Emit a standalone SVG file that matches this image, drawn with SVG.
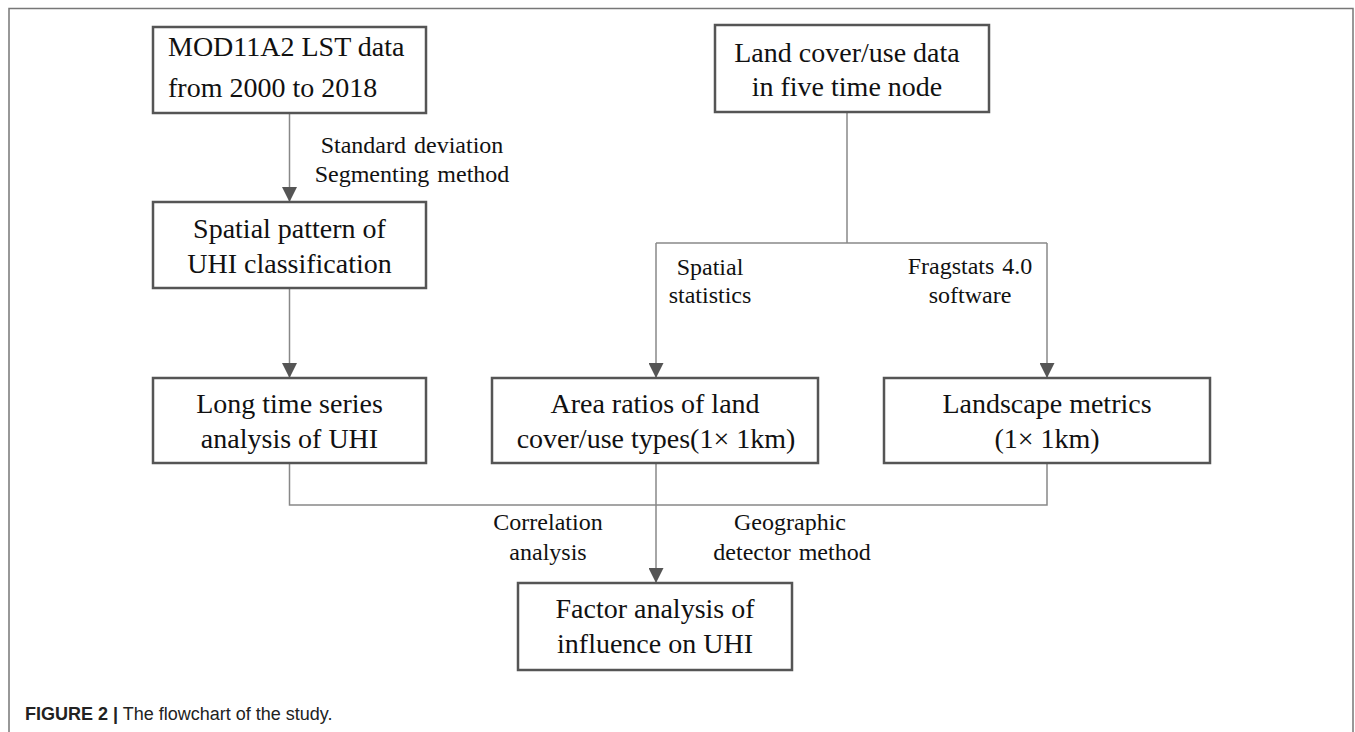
<svg xmlns="http://www.w3.org/2000/svg" width="1355" height="732" viewBox="0 0 1355 732">
<style>
.box{fill:#fff;stroke:#555;stroke-width:2.5}
.t{font-family:"Liberation Serif","Times New Roman","DejaVu Serif",serif;font-size:28px;fill:#111;text-anchor:middle}
.l{font-family:"Liberation Serif","Times New Roman","DejaVu Serif",serif;font-size:24px;fill:#111;text-anchor:middle;word-spacing:2px}
.c{fill:none;stroke:#888;stroke-width:1.5}
.frame{fill:none;stroke:#777;stroke-width:1.5}
.cap{font-family:"Liberation Sans",Arial,sans-serif;font-size:18px;fill:#222}
</style>
<defs>
<marker id="ah" markerUnits="userSpaceOnUse" markerWidth="16" markerHeight="15" refX="15" refY="7.5" orient="auto">
<path d="M0,0 L15,7.5 L0,15 Z" fill="#555"/>
</marker>
</defs>
<rect width="1355" height="732" fill="#fff"/>
<path class="frame" d="M9,732 V8.5 H1353 V732"/>
<g id="connectors">
<line class="c" x1="289.5" y1="113" x2="289.5" y2="202" marker-end="url(#ah)"/>
<line class="c" x1="289.5" y1="288" x2="289.5" y2="378" marker-end="url(#ah)"/>
<polyline class="c" points="847,112 847,243"/>
<polyline class="c" points="656,243 1047,243"/>
<line class="c" x1="656" y1="243" x2="656" y2="378" marker-end="url(#ah)"/>
<line class="c" x1="1047" y1="243" x2="1047" y2="378" marker-end="url(#ah)"/>
<polyline class="c" points="289.5,463 289.5,505 1047,505 1047,463"/>
<line class="c" x1="656" y1="463" x2="656" y2="583" marker-end="url(#ah)"/>
<g id="edge-labels">
<text class="l" x="412" y="153">Standard deviation</text>
<text class="l" x="412" y="182">Segmenting method</text>
<text class="l" x="710" y="275">Spatial</text>
<text class="l" x="710" y="303">statistics</text>
<text class="l" x="970" y="274">Fragstats 4.0</text>
<text class="l" x="970" y="303">software</text>
<text class="l" x="548" y="530">Correlation</text>
<text class="l" x="548" y="560">analysis</text>
<text class="l" x="790" y="530">Geographic</text>
<text class="l" x="792" y="560">detector method</text>
</g>
</g>
<g id="n-mod">
<rect class="box" x="153" y="27" width="273" height="86"/>
<text class="t" x="168" y="56" style="text-anchor:start">MOD11A2 LST data</text>
<text class="t" x="168" y="97" style="text-anchor:start">from 2000 to 2018</text>
</g>
<g id="n-spatial">
<rect class="box" x="153" y="202" width="273" height="86"/>
<text class="t" x="289.5" y="238">Spatial pattern of</text>
<text class="t" x="289.5" y="273">UHI classification</text>
</g>
<g id="n-long">
<rect class="box" x="153" y="378" width="273" height="85"/>
<text class="t" x="289.5" y="413">Long time series</text>
<text class="t" x="289.5" y="448">analysis of UHI</text>
</g>
<g id="n-land">
<rect class="box" x="715" y="25" width="274" height="87"/>
<text class="t" x="847" y="62">Land cover/use data</text>
<text class="t" x="847" y="96">in five time node</text>
</g>
<g id="n-area">
<rect class="box" x="492" y="378" width="326" height="85"/>
<text class="t" x="655" y="413">Area ratios of land</text>
<text class="t" x="656" y="448">cover/use types(1× 1km)</text>
</g>
<g id="n-landscape">
<rect class="box" x="884" y="378" width="326" height="85"/>
<text class="t" x="1047" y="413">Landscape metrics</text>
<text class="t" x="1047" y="448">(1× 1km)</text>
</g>
<g id="n-factor">
<rect class="box" x="518" y="583" width="274" height="87"/>
<text class="t" x="655" y="618">Factor analysis of</text>
<text class="t" x="655" y="653">influence on UHI</text>
</g>
<text class="cap" x="25" y="720"><tspan font-weight="bold">FIGURE 2 |</tspan> The flowchart of the study.</text>
</svg>
